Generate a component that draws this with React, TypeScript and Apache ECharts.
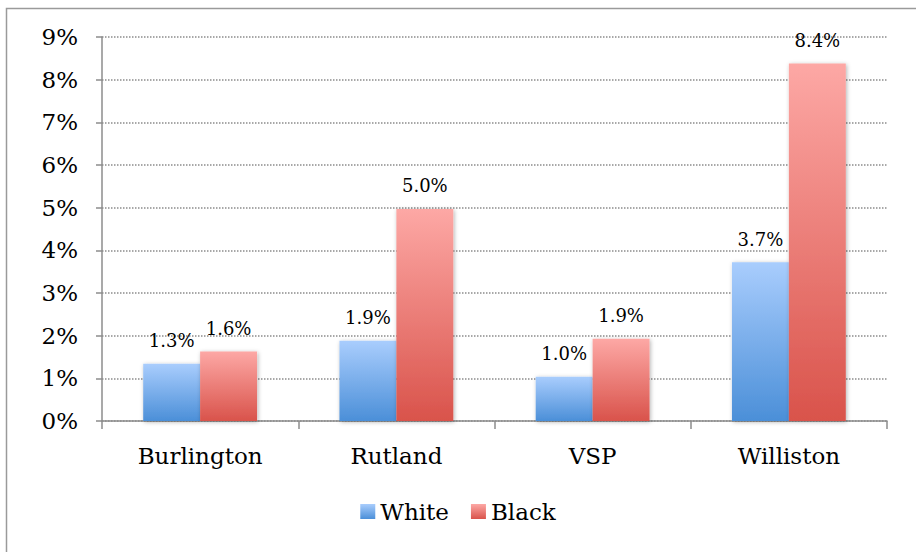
import React, { useEffect, useRef } from "react";
import * as echarts from "echarts";

const categories = ["Burlington", "Rutland", "VSP", "Williston"];
const whiteValues = [1.34, 1.88, 1.04, 3.72];
const blackValues = [1.63, 4.97, 1.93, 8.38];
const yTicks = [0, 1, 2, 3, 4, 5, 6, 7, 8, 9];

const FONT = "DejaVu Serif";

export default function App() {
  const ref = useRef<HTMLDivElement>(null);
  useEffect(() => {
    if (!ref.current) return;
    const chart = echarts.init(ref.current, null, { renderer: "svg" });
    const grad = (top: string, bottom: string) =>
      new echarts.graphic.LinearGradient(0, 0, 0, 1, [
        { offset: 0, color: top },
        { offset: 1, color: bottom },
      ]);
    const labelCfg = {
      show: true,
      position: "top" as const,
      distance: 14,
      fontFamily: FONT,
      fontSize: 18,
      color: "#000",
      formatter: (p: any) => `${Number(p.value).toFixed(1)}%`,
    };
    const shadow = {
      shadowBlur: 4,
      shadowColor: "rgba(0,0,0,0.3)",
      shadowOffsetX: 1,
      shadowOffsetY: 1,
    };
    chart.setOption({
      animation: false,
      graphic: [
        {
          type: "rect",
          shape: { x: 6.5, y: 8.5, width: 1200, height: 1200 },
          style: { fill: "none", stroke: "#9a9a9a", lineWidth: 1.5 },
          silent: true,
          z: -10,
        },
      ],
      grid: { left: 102, right: 29, top: 37, bottom: 131 },
      legend: {
        bottom: 24,
        left: "center",
        itemWidth: 15,
        itemHeight: 15,
        itemGap: 22,
        icon: "rect",
        textStyle: { fontFamily: FONT, fontSize: 23, color: "#000" },
        data: ["White", "Black"],
      },
      xAxis: {
        type: "category",
        data: categories,
        axisLine: { lineStyle: { color: "#8c8c8c", width: 1.5 } },
        axisTick: { show: true, length: 8, lineStyle: { color: "#8c8c8c", width: 1.5 } },
        axisLabel: { fontFamily: FONT, fontSize: 23, color: "#000", margin: 23 },
      },
      yAxis: {
        type: "value",
        min: yTicks[0],
        max: yTicks[yTicks.length - 1],
        interval: 1,
        axisLine: { show: true, lineStyle: { color: "#8c8c8c", width: 1.5 } },
        axisTick: { show: true, length: 6, lineStyle: { color: "#8c8c8c", width: 1.5 } },
        axisLabel: {
          fontFamily: FONT,
          fontSize: 23,
          color: "#000",
          margin: 24,
          formatter: (v: number) => `${v}%`,
        },
        splitLine: { lineStyle: { type: "dotted", color: "#8c8c8c", width: 1.5 } },
      },
      series: [
        {
          name: "White",
          type: "bar",
          data: whiteValues,
          barGap: "0%",
          barCategoryGap: "42%",
          itemStyle: { color: grad("#a9cdfd", "#4b8fd8"), ...shadow },
          label: labelCfg,
        },
        {
          name: "Black",
          type: "bar",
          data: blackValues,
          itemStyle: { color: grad("#fda8a5", "#d9534b"), ...shadow },
          label: labelCfg,
        },
      ],
    });
    return () => chart.dispose();
  }, []);
  return <div ref={ref} style={{ width: 916, height: 552, position: "absolute", left: 0, top: 0 }} />;
}
